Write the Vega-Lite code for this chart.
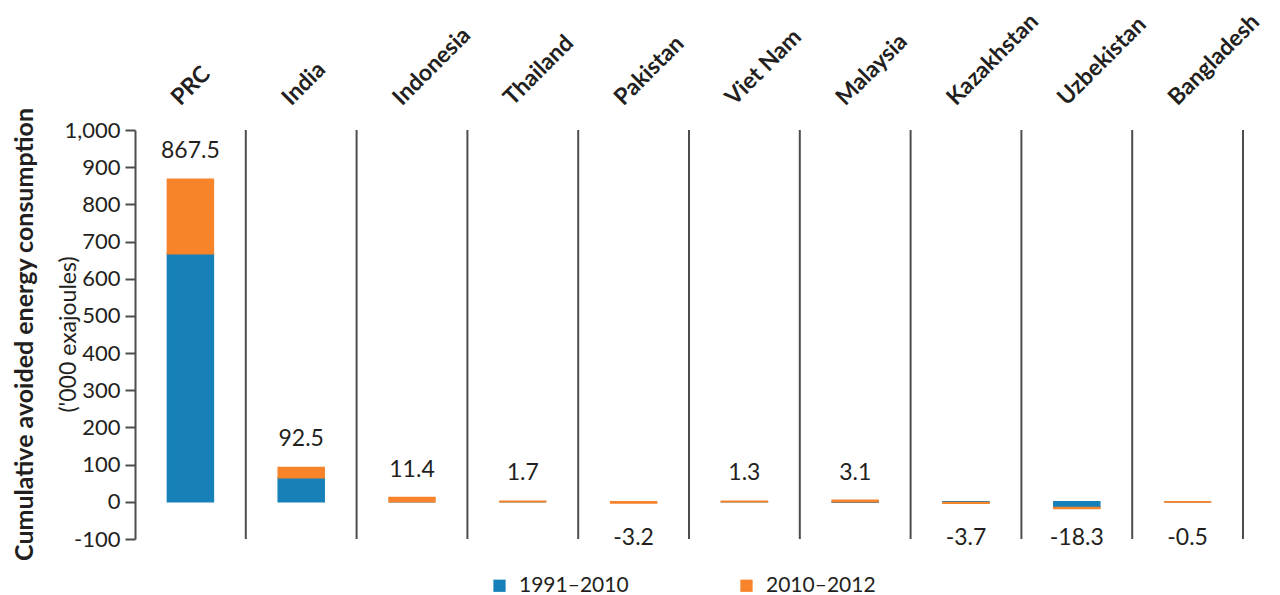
{
  "$schema": "https://vega.github.io/schema/vega-lite/v6.json",
  "width": 1108,
  "height": 409,
  "padding": {"left": 12, "top": 9, "right": 10, "bottom": 5},
  "background": "white",
  "config": {
    "view": {"stroke": null},
    "font": "Lato",
    "text": {"font": "Lato"}
  },
  "title": {
    "text": "Cumulative avoided energy consumption",
    "subtitle": "('000 exajoules)",
    "orient": "left",
    "anchor": "middle",
    "frame": "group",
    "font": "Lato",
    "fontSize": 25,
    "fontWeight": "bold",
    "color": "#231f20",
    "subtitleFont": "Lato",
    "subtitleFontSize": 23,
    "subtitleFontWeight": "normal",
    "subtitleColor": "#231f20",
    "subtitlePadding": 20,
    "offset": -17
  },
  "datasets": {
    "bars": [
      {"country": "PRC", "period": "1991–2010", "value": 667},
      {"country": "PRC", "period": "2010–2012", "value": 200.5},
      {"country": "India", "period": "1991–2010", "value": 65},
      {"country": "India", "period": "2010–2012", "value": 27.5},
      {"country": "Indonesia", "period": "1991–2010", "value": 0},
      {"country": "Indonesia", "period": "2010–2012", "value": 11.4},
      {"country": "Thailand", "period": "1991–2010", "value": 0},
      {"country": "Thailand", "period": "2010–2012", "value": 1.7},
      {"country": "Pakistan", "period": "1991–2010", "value": 0},
      {"country": "Pakistan", "period": "2010–2012", "value": -3.2},
      {"country": "Viet Nam", "period": "1991–2010", "value": 0.3},
      {"country": "Viet Nam", "period": "2010–2012", "value": 1.0},
      {"country": "Malaysia", "period": "1991–2010", "value": -1.0},
      {"country": "Malaysia", "period": "2010–2012", "value": 4.1},
      {"country": "Kazakhstan", "period": "1991–2010", "value": -1.5},
      {"country": "Kazakhstan", "period": "2010–2012", "value": -2.2},
      {"country": "Uzbekistan", "period": "1991–2010", "value": -15.5},
      {"country": "Uzbekistan", "period": "2010–2012", "value": -2.8},
      {"country": "Bangladesh", "period": "1991–2010", "value": 0},
      {"country": "Bangladesh", "period": "2010–2012", "value": -0.5}
    ],
    "totals": [
      {"country": "PRC", "total": 867.5},
      {"country": "India", "total": 92.5},
      {"country": "Indonesia", "total": 11.4},
      {"country": "Thailand", "total": 1.7},
      {"country": "Pakistan", "total": -3.2},
      {"country": "Viet Nam", "total": 1.3},
      {"country": "Malaysia", "total": 3.1},
      {"country": "Kazakhstan", "total": -3.7},
      {"country": "Uzbekistan", "total": -18.3},
      {"country": "Bangladesh", "total": -0.5}
    ]
  },
  "encoding": {
    "x": {
      "field": "country",
      "type": "nominal",
      "sort": ["PRC", "India", "Indonesia", "Thailand", "Pakistan", "Viet Nam", "Malaysia", "Kazakhstan", "Uzbekistan", "Bangladesh"],
      "scale": {"paddingInner": 0, "paddingOuter": 0},
      "axis": {
        "orient": "top",
        "title": null,
        "domain": false,
        "ticks": false,
        "grid": false,
        "labelAngle": -45,
        "labelAlign": "left",
        "labelBaseline": "alphabetic",
        "labelOffset": -10,
        "labelPadding": 24,
        "labelFont": "Lato",
        "labelFontSize": 23,
        "labelFontWeight": "bold",
        "labelColor": "#231f20",
        "labelOverlap": false
      }
    }
  },
  "layer": [
    {
      "data": {"name": "totals"},
      "mark": {"type": "rule", "color": "#4d4d4d", "strokeWidth": 2},
      "encoding": {
        "x": {"field": "country", "type": "nominal", "bandPosition": 1}
      }
    },
    {
      "data": {"name": "bars"},
      "mark": {"type": "bar", "width": {"band": 0.415}, "strokeWidth": 1.5},
      "encoding": {
        "y": {
          "field": "value",
          "type": "quantitative",
          "stack": "zero",
          "scale": {"domain": [-100, 1000], "nice": false},
          "axis": {
            "title": null,
            "values": [-100, 0, 100, 200, 300, 400, 500, 600, 700, 800, 900, 1000],
            "tickCount": 12,
            "grid": false,
            "domainColor": "#4d4d4d",
            "domainWidth": 2,
            "tickColor": "#4d4d4d",
            "tickWidth": 2,
            "tickSize": 10,
            "labelPadding": 5,
            "labelFont": "Lato",
            "labelFontSize": 22,
            "labelColor": "#231f20",
            "labelOverlap": false,
            "labelExpr": "replace(datum.label, '−', '-')"
          }
        },
        "color": {
          "field": "period",
          "type": "nominal",
          "scale": {"domain": ["1991–2010", "2010–2012"], "range": ["#1780b9", "#f7832a"]},
          "legend": {
            "title": null,
            "orient": "none",
            "legendX": 354,
            "legendY": 445,
            "direction": "horizontal",
            "symbolType": "square",
            "symbolSize": 150,
            "symbolStrokeWidth": 0,
            "labelFont": "Lato",
            "labelFontSize": 21,
            "labelColor": "#231f20",
            "labelOffset": 9,
            "columnPadding": 107
          }
        },
        "stroke": {
          "field": "period",
          "type": "nominal",
          "scale": {"domain": ["1991–2010", "2010–2012"], "range": ["#1780b9", "#f7832a"]},
          "legend": null
        },
        "order": {"field": "period", "sort": "ascending"}
      }
    },
    {
      "mark": {"type": "rule", "color": "#4d4d4d", "strokeWidth": 2},
      "encoding": {"y": {"datum": 0, "type": "quantitative"}}
    },
    {
      "data": {"name": "totals"},
      "transform": [
        {"filter": "datum.total > 0"},
        {"calculate": "format(datum.total, '.1f')", "as": "label"}
      ],
      "mark": {"type": "text", "font": "Lato", "fontSize": 23, "color": "#231f20", "baseline": "middle", "dy": -28},
      "encoding": {
        "y": {"field": "total", "type": "quantitative"},
        "text": {"field": "label", "type": "nominal"}
      }
    },
    {
      "data": {"name": "totals"},
      "transform": [
        {"filter": "datum.total < 0"},
        {"calculate": "replace(format(datum.total, '.1f'), '−', '-')", "as": "label"}
      ],
      "mark": {"type": "text", "font": "Lato", "fontSize": 23, "color": "#231f20", "baseline": "middle", "dy": -1},
      "encoding": {
        "y": {"datum": -100, "type": "quantitative"},
        "text": {"field": "label", "type": "nominal"}
      }
    }
  ]
}
